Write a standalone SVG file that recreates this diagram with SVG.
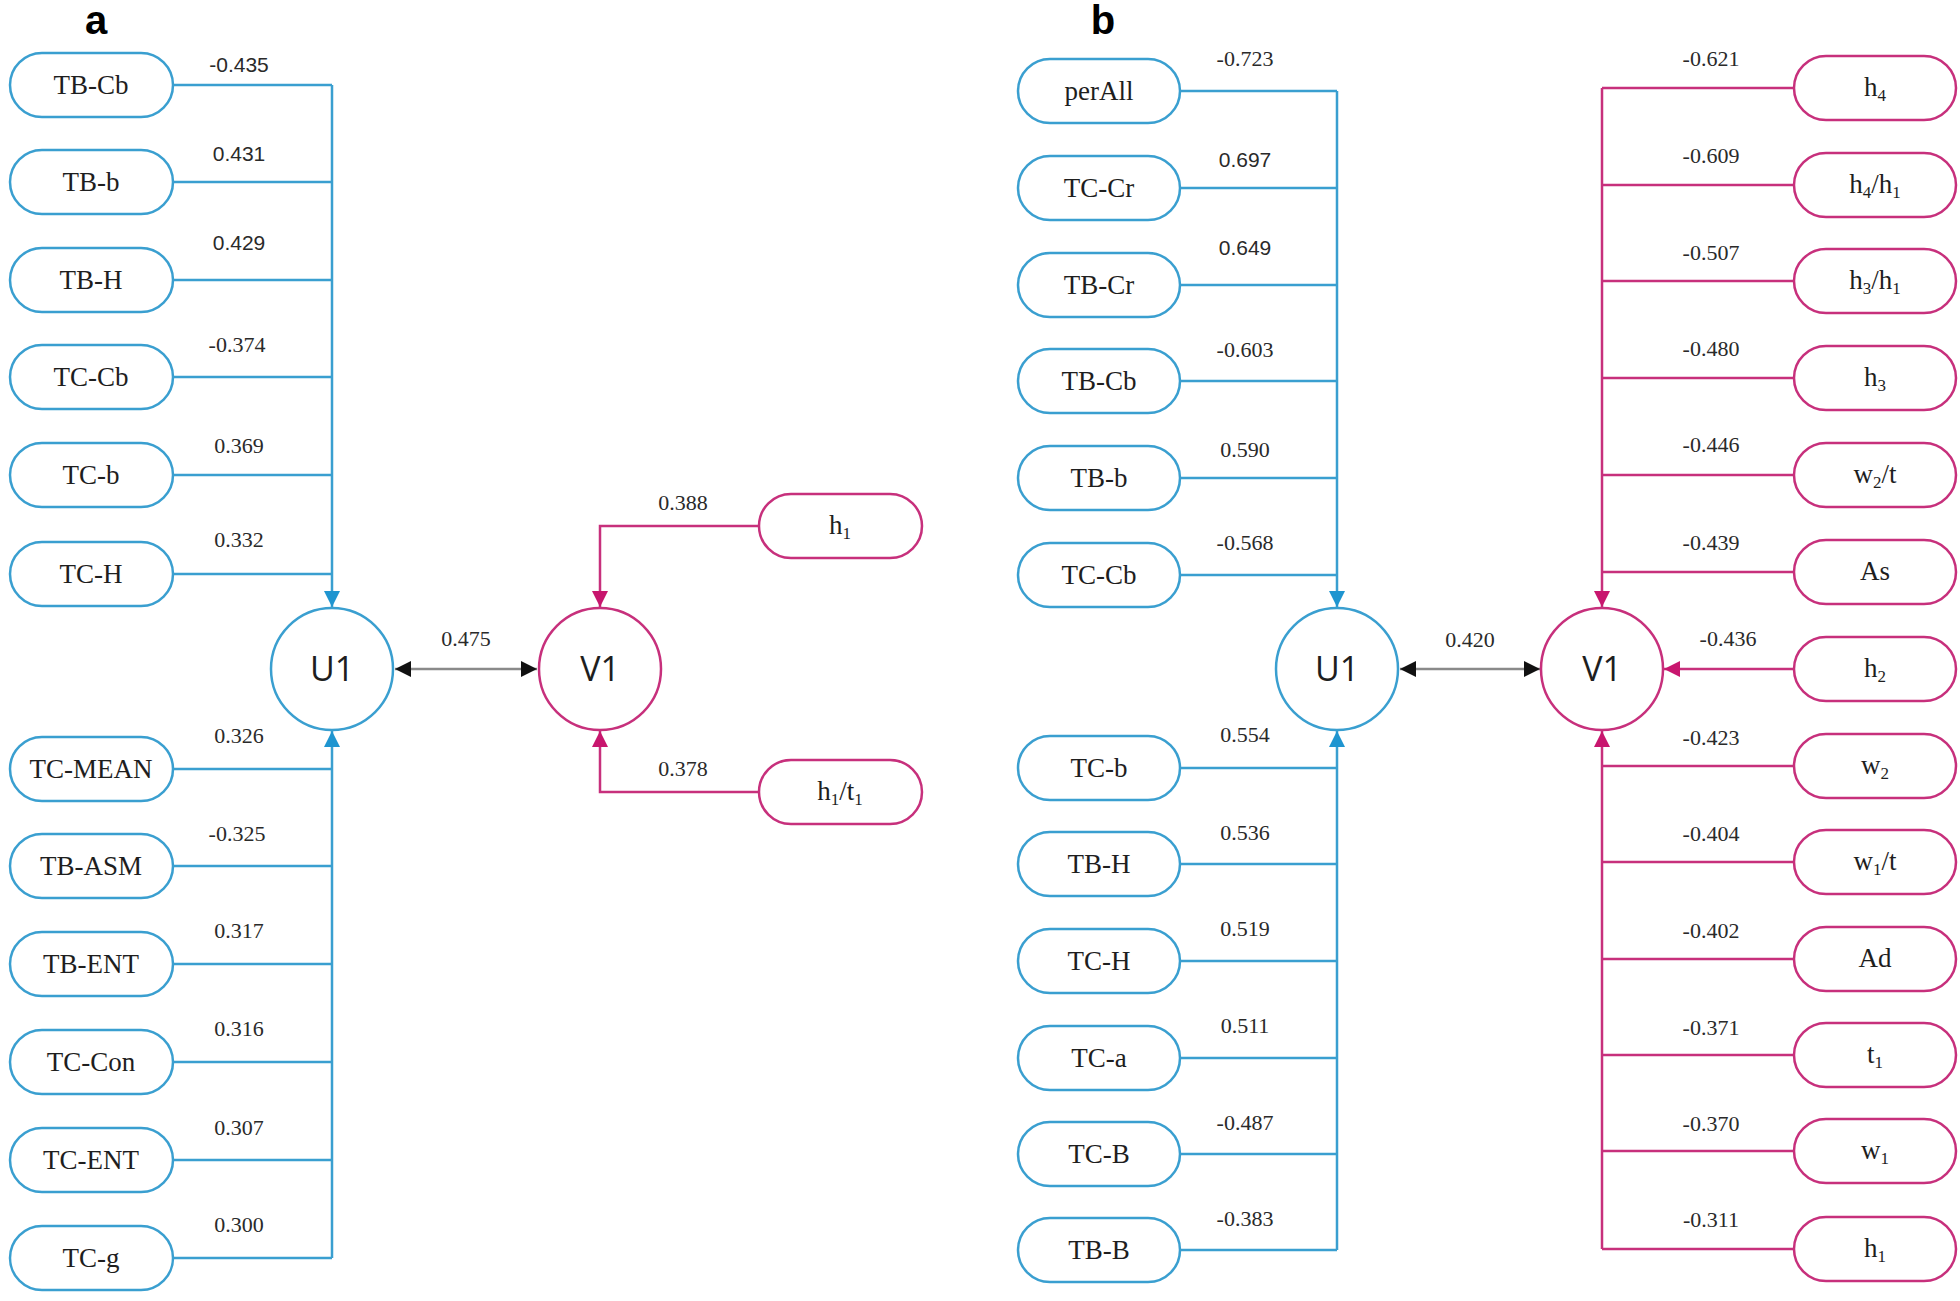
<svg xmlns="http://www.w3.org/2000/svg" width="1960" height="1301" viewBox="0 0 1960 1301">
<style>
.bg{fill:#ffffff}
.pb{fill:#ffffff;stroke:#3a9fd0;stroke-width:2.5}
.pm{fill:#ffffff;stroke:#c7307c;stroke-width:2.5}
.t{font-family:"Liberation Serif","Times New Roman",serif;font-size:27px;fill:#1e1e1e;text-anchor:middle}
.v{font-family:"Liberation Serif","Times New Roman",serif;font-size:22px;fill:#2a2a2a;text-anchor:middle}
.vs{font-family:"Liberation Sans",Arial,sans-serif;font-size:21px;fill:#2a2a2a;text-anchor:middle}
.c{font-family:"Open Sans","Noto Sans",sans-serif;font-size:34px;fill:#1e1e1e;text-anchor:middle}
.lab{font-family:"Liberation Sans",Arial,sans-serif;font-size:40px;font-weight:bold;fill:#000;text-anchor:middle}
.lb{fill:none;stroke:#3a9fd0;stroke-width:2.5}
.lm{fill:none;stroke:#c7307c;stroke-width:2.5}
.lg{fill:none;stroke:#8a8a8a;stroke-width:2.5}
.sub{font-size:17px}
</style>
<defs>
<marker id="ab" viewBox="0 0 16 16" refX="16" refY="8" markerWidth="16" markerHeight="16" orient="auto" markerUnits="userSpaceOnUse"><path d="M0,0 L16,8 L0,16 z" fill="#1f95d0"/></marker>
<marker id="am" viewBox="0 0 16 16" refX="16" refY="8" markerWidth="16" markerHeight="16" orient="auto" markerUnits="userSpaceOnUse"><path d="M0,0 L16,8 L0,16 z" fill="#c8166e"/></marker>
<marker id="ak" viewBox="0 0 16 16" refX="16" refY="8" markerWidth="16" markerHeight="16" orient="auto-start-reverse" markerUnits="userSpaceOnUse"><path d="M0,0 L16,8 L0,16 z" fill="#111"/></marker>
</defs>
<rect class="bg" x="0" y="0" width="1960" height="1301"/>
<text class="lab" x="96" y="34">a</text>
<text class="lab" x="1103" y="34">b</text>

<g id="connectors">
<path class="lb" d="M173,85H332M173,182H332M173,280H332M173,377H332M173,475H332M173,574H332"/>
<path class="lb" d="M173,769H332M173,866H332M173,964H332M173,1062H332M173,1160H332M173,1258H332"/>
<path class="lb" d="M332,85V607" marker-end="url(#ab)"/>
<path class="lb" d="M332,1258V731" marker-end="url(#ab)"/>
<path class="lg" d="M395,669H537" marker-start="url(#ak)" marker-end="url(#ak)"/>
<path class="lm" d="M759,526H600V607" marker-end="url(#am)"/>
<path class="lm" d="M759,792H600V731" marker-end="url(#am)"/>
<path class="lb" d="M1180,91H1337M1180,188H1337M1180,285H1337M1180,381H1337M1180,478H1337M1180,575H1337"/>
<path class="lb" d="M1180,768H1337M1180,864H1337M1180,961H1337M1180,1058H1337M1180,1154H1337M1180,1250H1337"/>
<path class="lb" d="M1337,91V607" marker-end="url(#ab)"/>
<path class="lb" d="M1337,1250V731" marker-end="url(#ab)"/>
<path class="lg" d="M1400,669H1540" marker-start="url(#ak)" marker-end="url(#ak)"/>
<path class="lm" d="M1794,88H1602M1794,185H1602M1794,281H1602M1794,378H1602M1794,475H1602M1794,572H1602"/>
<path class="lm" d="M1794,766H1602M1794,862H1602M1794,959H1602M1794,1055H1602M1794,1151H1602M1794,1249H1602"/>
<path class="lm" d="M1602,88V607" marker-end="url(#am)"/>
<path class="lm" d="M1602,1249V731" marker-end="url(#am)"/>
<path class="lm" d="M1794,669H1664" marker-end="url(#am)"/>
</g>

<g id="labels">
<text class="vs" x="239" y="72">-0.435</text>
<text class="vs" x="239" y="161">0.431</text>
<text class="vs" x="239" y="250">0.429</text>
<text class="v" x="237" y="352">-0.374</text>
<text class="v" x="239" y="453">0.369</text>
<text class="v" x="239" y="547">0.332</text>
<text class="v" x="239" y="743">0.326</text>
<text class="v" x="237" y="841">-0.325</text>
<text class="v" x="239" y="938">0.317</text>
<text class="v" x="239" y="1036">0.316</text>
<text class="v" x="239" y="1135">0.307</text>
<text class="v" x="239" y="1232">0.300</text>
<text class="v" x="466" y="646">0.475</text>
<text class="v" x="683" y="510">0.388</text>
<text class="v" x="683" y="776">0.378</text>
<text class="v" x="1245" y="66">-0.723</text>
<text class="vs" x="1245" y="167">0.697</text>
<text class="vs" x="1245" y="255">0.649</text>
<text class="v" x="1245" y="357">-0.603</text>
<text class="v" x="1245" y="457">0.590</text>
<text class="v" x="1245" y="550">-0.568</text>
<text class="v" x="1245" y="742">0.554</text>
<text class="v" x="1245" y="840">0.536</text>
<text class="v" x="1245" y="936">0.519</text>
<text class="v" x="1245" y="1033">0.511</text>
<text class="v" x="1245" y="1130">-0.487</text>
<text class="v" x="1245" y="1226">-0.383</text>
<text class="v" x="1470" y="647">0.420</text>
<text class="v" x="1711" y="66">-0.621</text>
<text class="v" x="1711" y="163">-0.609</text>
<text class="v" x="1711" y="260">-0.507</text>
<text class="v" x="1711" y="356">-0.480</text>
<text class="v" x="1711" y="452">-0.446</text>
<text class="v" x="1711" y="550">-0.439</text>
<text class="v" x="1728" y="646">-0.436</text>
<text class="v" x="1711" y="745">-0.423</text>
<text class="v" x="1711" y="841">-0.404</text>
<text class="v" x="1711" y="938">-0.402</text>
<text class="v" x="1711" y="1035">-0.371</text>
<text class="v" x="1711" y="1131">-0.370</text>
<text class="v" x="1711" y="1227">-0.311</text>
</g>

<g id="a-TB-Cb"><rect class="pb" x="10" y="53" width="163" height="64" rx="32"/><text class="t" x="91" y="94">TB-Cb</text></g>
<g id="a-TB-b"><rect class="pb" x="10" y="150" width="163" height="64" rx="32"/><text class="t" x="91" y="191">TB-b</text></g>
<g id="a-TB-H"><rect class="pb" x="10" y="248" width="163" height="64" rx="32"/><text class="t" x="91" y="289">TB-H</text></g>
<g id="a-TC-Cb"><rect class="pb" x="10" y="345" width="163" height="64" rx="32"/><text class="t" x="91" y="386">TC-Cb</text></g>
<g id="a-TC-b"><rect class="pb" x="10" y="443" width="163" height="64" rx="32"/><text class="t" x="91" y="484">TC-b</text></g>
<g id="a-TC-H"><rect class="pb" x="10" y="542" width="163" height="64" rx="32"/><text class="t" x="91" y="583">TC-H</text></g>
<g id="a-TC-MEAN"><rect class="pb" x="10" y="737" width="163" height="64" rx="32"/><text class="t" x="91" y="778">TC-MEAN</text></g>
<g id="a-TB-ASM"><rect class="pb" x="10" y="834" width="163" height="64" rx="32"/><text class="t" x="91" y="875">TB-ASM</text></g>
<g id="a-TB-ENT"><rect class="pb" x="10" y="932" width="163" height="64" rx="32"/><text class="t" x="91" y="973">TB-ENT</text></g>
<g id="a-TC-Con"><rect class="pb" x="10" y="1030" width="163" height="64" rx="32"/><text class="t" x="91" y="1071">TC-Con</text></g>
<g id="a-TC-ENT"><rect class="pb" x="10" y="1128" width="163" height="64" rx="32"/><text class="t" x="91" y="1169">TC-ENT</text></g>
<g id="a-TC-g"><rect class="pb" x="10" y="1226" width="163" height="64" rx="32"/><text class="t" x="91" y="1267">TC-g</text></g>
<g id="a-U1"><circle cx="332" cy="669" r="61" fill="#fff" stroke="#3a9fd0" stroke-width="2.5"/><text class="c" x="332" y="681">U1</text></g>
<g id="a-V1"><circle cx="600" cy="669" r="61" fill="#fff" stroke="#c7307c" stroke-width="2.5"/><text class="c" x="600" y="681">V1</text></g>
<g id="a-h1"><rect class="pm" x="759" y="494" width="163" height="64" rx="32"/><text class="t" x="840" y="534">h<tspan class="sub" dy="5">1</tspan></text></g>
<g id="a-h1t1"><rect class="pm" x="759" y="760" width="163" height="64" rx="32"/><text class="t" x="840" y="800">h<tspan class="sub" dy="5">1</tspan><tspan dy="-5">/t</tspan><tspan class="sub" dy="5">1</tspan></text></g>

<g id="b-perAll"><rect class="pb" x="1018" y="59" width="162" height="64" rx="32"/><text class="t" x="1099" y="100">perAll</text></g>
<g id="b-TC-Cr"><rect class="pb" x="1018" y="156" width="162" height="64" rx="32"/><text class="t" x="1099" y="197">TC-Cr</text></g>
<g id="b-TB-Cr"><rect class="pb" x="1018" y="253" width="162" height="64" rx="32"/><text class="t" x="1099" y="294">TB-Cr</text></g>
<g id="b-TB-Cb"><rect class="pb" x="1018" y="349" width="162" height="64" rx="32"/><text class="t" x="1099" y="390">TB-Cb</text></g>
<g id="b-TB-b"><rect class="pb" x="1018" y="446" width="162" height="64" rx="32"/><text class="t" x="1099" y="487">TB-b</text></g>
<g id="b-TC-Cb"><rect class="pb" x="1018" y="543" width="162" height="64" rx="32"/><text class="t" x="1099" y="584">TC-Cb</text></g>
<g id="b-TC-b"><rect class="pb" x="1018" y="736" width="162" height="64" rx="32"/><text class="t" x="1099" y="777">TC-b</text></g>
<g id="b-TB-H"><rect class="pb" x="1018" y="832" width="162" height="64" rx="32"/><text class="t" x="1099" y="873">TB-H</text></g>
<g id="b-TC-H"><rect class="pb" x="1018" y="929" width="162" height="64" rx="32"/><text class="t" x="1099" y="970">TC-H</text></g>
<g id="b-TC-a"><rect class="pb" x="1018" y="1026" width="162" height="64" rx="32"/><text class="t" x="1099" y="1067">TC-a</text></g>
<g id="b-TC-B"><rect class="pb" x="1018" y="1122" width="162" height="64" rx="32"/><text class="t" x="1099" y="1163">TC-B</text></g>
<g id="b-TB-B"><rect class="pb" x="1018" y="1218" width="162" height="64" rx="32"/><text class="t" x="1099" y="1259">TB-B</text></g>
<g id="b-U1"><circle cx="1337" cy="669" r="61" fill="#fff" stroke="#3a9fd0" stroke-width="2.5"/><text class="c" x="1337" y="681">U1</text></g>
<g id="b-V1"><circle cx="1602" cy="669" r="61" fill="#fff" stroke="#c7307c" stroke-width="2.5"/><text class="c" x="1602" y="681">V1</text></g>

<g id="b-h4"><rect class="pm" x="1794" y="56" width="162" height="64" rx="32"/><text class="t" x="1875" y="96">h<tspan class="sub" dy="5">4</tspan></text></g>
<g id="b-h4h1"><rect class="pm" x="1794" y="153" width="162" height="64" rx="32"/><text class="t" x="1875" y="193">h<tspan class="sub" dy="5">4</tspan><tspan dy="-5">/h</tspan><tspan class="sub" dy="5">1</tspan></text></g>
<g id="b-h3h1"><rect class="pm" x="1794" y="249" width="162" height="64" rx="32"/><text class="t" x="1875" y="289">h<tspan class="sub" dy="5">3</tspan><tspan dy="-5">/h</tspan><tspan class="sub" dy="5">1</tspan></text></g>
<g id="b-h3"><rect class="pm" x="1794" y="346" width="162" height="64" rx="32"/><text class="t" x="1875" y="386">h<tspan class="sub" dy="5">3</tspan></text></g>
<g id="b-w2t"><rect class="pm" x="1794" y="443" width="162" height="64" rx="32"/><text class="t" x="1875" y="483">w<tspan class="sub" dy="5">2</tspan><tspan dy="-5">/t</tspan></text></g>
<g id="b-As"><rect class="pm" x="1794" y="540" width="162" height="64" rx="32"/><text class="t" x="1875" y="580">As</text></g>
<g id="b-h2"><rect class="pm" x="1794" y="637" width="162" height="64" rx="32"/><text class="t" x="1875" y="677">h<tspan class="sub" dy="5">2</tspan></text></g>
<g id="b-w2"><rect class="pm" x="1794" y="734" width="162" height="64" rx="32"/><text class="t" x="1875" y="774">w<tspan class="sub" dy="5">2</tspan></text></g>
<g id="b-w1t"><rect class="pm" x="1794" y="830" width="162" height="64" rx="32"/><text class="t" x="1875" y="870">w<tspan class="sub" dy="5">1</tspan><tspan dy="-5">/t</tspan></text></g>
<g id="b-Ad"><rect class="pm" x="1794" y="927" width="162" height="64" rx="32"/><text class="t" x="1875" y="967">Ad</text></g>
<g id="b-t1"><rect class="pm" x="1794" y="1023" width="162" height="64" rx="32"/><text class="t" x="1875" y="1063">t<tspan class="sub" dy="5">1</tspan></text></g>
<g id="b-w1"><rect class="pm" x="1794" y="1119" width="162" height="64" rx="32"/><text class="t" x="1875" y="1159">w<tspan class="sub" dy="5">1</tspan></text></g>
<g id="b-h1"><rect class="pm" x="1794" y="1217" width="162" height="64" rx="32"/><text class="t" x="1875" y="1257">h<tspan class="sub" dy="5">1</tspan></text></g>
</svg>
